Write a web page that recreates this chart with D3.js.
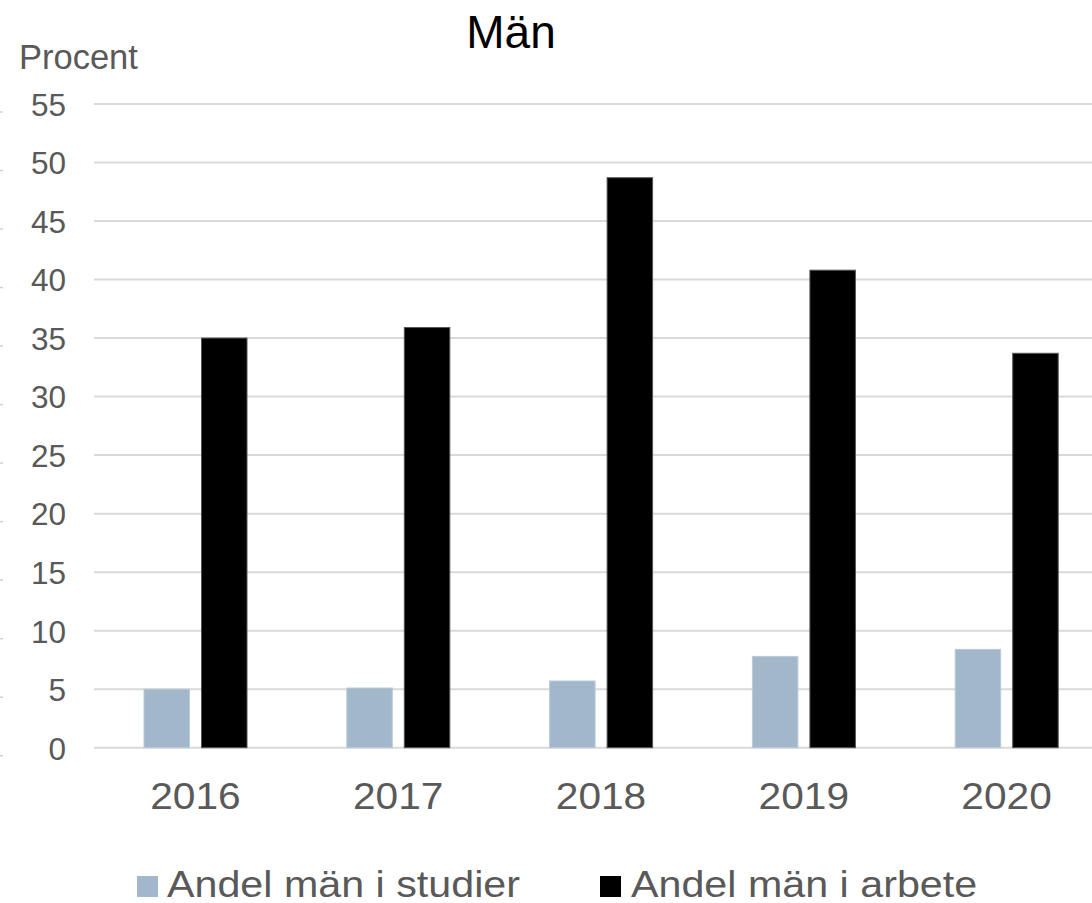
<!DOCTYPE html>
<html><head><meta charset="utf-8">
<script src="https://cdn.jsdelivr.net/npm/d3@7"></script>
<style>html,body{margin:0;padding:0;background:#fff;overflow:hidden}</style>
</head><body>
<svg id="c" width="1092" height="903"></svg>
<script>
const years = ["2016","2017","2018","2019","2020"];
const studier = [5.0, 5.1, 5.7, 7.8, 8.4];
const arbete = [35.0, 35.9, 48.7, 40.8, 33.7];
const yTicks = [0,5,10,15,20,25,30,35,40,45,50,55];
const seriesNames = ["Andel män i studier","Andel män i arbete"];
const colors = ["#a2b7ca","#000000"];

const svg = d3.select("#c");
const font = "Liberation Sans, Arial, sans-serif";
const x0 = d3.scaleBand().domain(years).range([94, 1108]).paddingInner(0).paddingOuter(0);
const y = d3.scaleLinear().domain([0,55]).range([747.7, 104]);

// faint marks at left edge
svg.append("g").selectAll("line").data(yTicks).join("line")
  .attr("x1",0).attr("x2",3).attr("y1",d=>y(d)+8).attr("y2",d=>y(d)+8)
  .attr("stroke","#d0d0d0").attr("stroke-width",1.5);

// gridlines
svg.append("g").selectAll("line").data(yTicks).join("line")
  .attr("x1",94).attr("x2",1108).attr("y1",d=>y(d)).attr("y2",d=>y(d))
  .attr("stroke","#d9d9d9").attr("stroke-width",2);

// y axis labels
const yAxis = d3.axisLeft(y).tickValues(yTicks).tickSize(0).tickPadding(0);
const ya = svg.append("g").attr("transform","translate(66,0)").call(yAxis);
ya.select(".domain").remove();
ya.selectAll("text").attr("font-family",font).attr("font-size",31.5).attr("fill","#595959").attr("dy","0.36em");

// x axis labels
const xAxis = d3.axisBottom(x0).tickSize(0).tickPadding(0);
const xa = svg.append("g").attr("transform","translate(0,809)").call(xAxis);
xa.select(".domain").remove();
xa.selectAll("text").attr("font-family",font).attr("font-size",36).attr("fill","#595959")
  .attr("y",0).attr("dy",0).attr("transform","scale(1.13,1)");

// bars
const x1 = d3.scaleBand().domain([0,1]).range([50, 153]).paddingInner(0.209).paddingOuter(0);
const data = [studier, arbete];
data.forEach((vals,si)=>{
  svg.append("g").selectAll("rect").data(years).join("rect")
    .attr("x",(d)=>x0(d)+x1(si))
    .attr("y",(d,i)=>y(vals[i]))
    .attr("width",x1.bandwidth())
    .attr("height",(d,i)=>y(0)-y(vals[i]))
    .attr("fill",colors[si])
    .attr("stroke", si===0 ? "#b9cadb" : "#555")
    .attr("stroke-width",1);
});

// title
svg.append("text").attr("x",511).attr("y",48).attr("text-anchor","middle")
  .attr("font-family",font).attr("font-size",46).attr("fill","#000").text("Män");
svg.append("text").attr("x",19).attr("y",69)
  .attr("font-family",font).attr("font-size",34.5).attr("fill","#595959").text("Procent");

// legend
const leg = [{x:137,tx:167},{x:600,tx:631}];
leg.forEach((l,i)=>{
  svg.append("rect").attr("x",l.x).attr("y",876).attr("width",21).attr("height",21).attr("fill",colors[i]);
  svg.append("text").attr("transform",`translate(${l.tx},897) scale(1.13,1)`)
    .attr("font-family",font).attr("font-size",36.5)
    .attr("fill","#595959").text(seriesNames[i]);
});
</script>
</body></html>
